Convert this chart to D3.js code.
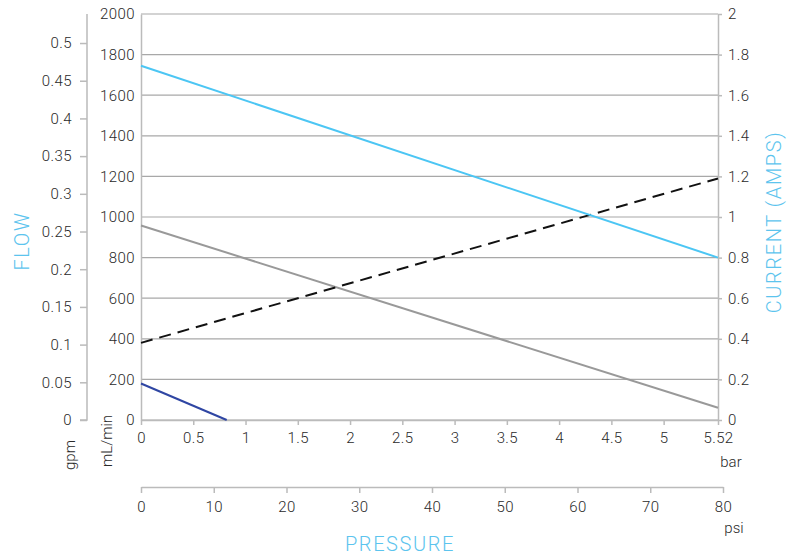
<!DOCTYPE html>
<html lang="en">
<head>
	<meta charset="UTF-8"/>
	<title>Flow and current vs pressure</title>
	<script src="https://d3js.org/d3.v7.min.js"></script>
	<style>
		body { margin:0; background:#fff; }
		text { font-family:"Roboto", "Liberation Sans", sans-serif; font-weight:300; fill:#2a2a2a; }
		.title { fill:#5cc4ee; font-size:20px; letter-spacing:1.6px; }
	</style>
</head>
<body>
	<script>
		// tick labels
		var mlTicks = [0,200,400,600,800,1000,1200,1400,1600,1800,2000];
		var gpmTicks = [0,0.05,0.1,0.15,0.2,0.25,0.3,0.35,0.4,0.45,0.5];
		var ampTicks = [0,0.2,0.4,0.6,0.8,1,1.2,1.4,1.6,1.8,2];
		var barTicks = [0,0.5,1,1.5,2,2.5,3,3.5,4,4.5,5,5.52];
		var psiTicks = [0,10,20,30,40,50,60,70,80];

		// series: [bar, value]
		var flowLight = [[0,1745],[5.52,800]];    // mL/min
		var flowGray = [[0,958],[5.52,60]];       // mL/min
		var flowDark = [[0,180],[0.82,0]];        // mL/min
		var current = [[0,0.38],[5.52,1.19]];     // amps

		var w = 799, h = 557;
		var padL = 141, padR = 718, padT = 14, padB = 420;

		var x = d3.scaleLinear().domain([0,5.52]).range([padL,padR]);
		var xPsi = d3.scaleLinear().domain([0,80]).range([padL,723]);
		var yMl = d3.scaleLinear().domain([0,2000]).range([padB,padT]);
		var yGpm = d3.scaleLinear().domain([0,0.5385]).range([padB,padT]);
		var yAmp = d3.scaleLinear().domain([0,2]).range([padB,padT]);

		var svg = d3.select("body").append("svg").attr("width",w).attr("height",h);

		// gridlines
		svg.append("g").selectAll("line").data(mlTicks).enter().append("line")
		.attr("x1",padL).attr("x2",padR)
		.attr("y1",function(d){ return yMl(d); })
		.attr("y2",function(d){ return yMl(d); })
		.attr("stroke","#a8a8a8").attr("stroke-width",1.2);

		function styleAxis(g){
			g.selectAll("path").attr("stroke","#bbb").attr("stroke-width",1.5);
			g.selectAll("line").attr("stroke","#bbb").attr("stroke-width",1.5);
			g.selectAll("text").attr("font-size","15px").attr("fill","#2a2a2a")
			.style("font-family","Roboto, 'Liberation Sans', sans-serif").style("font-weight","300")
			.style("letter-spacing","0.4px");
		}
		var fmt = function(d){ return String(d); };

		// left mL/min axis
		var gMl = svg.append("g").attr("transform","translate("+padL+",0)")
		.call(d3.axisLeft(yMl).tickValues(mlTicks).tickFormat(fmt).tickSize(0).tickPadding(6));
		styleAxis(gMl);

		// gpm axis
		var gGpm = svg.append("g").attr("transform","translate(87,0)")
		.call(d3.axisLeft(yGpm).tickValues(gpmTicks).tickFormat(fmt).tickSize(7).tickSizeOuter(0).tickPadding(8));
		styleAxis(gGpm);
		gGpm.select("path").attr("d","M-7,"+padB+"H0V"+padT);

		// right amps axis
		var gAmp = svg.append("g").attr("transform","translate("+padR+",0)")
		.call(d3.axisRight(yAmp).tickValues(ampTicks).tickFormat(fmt).tickSize(4).tickSizeOuter(0).tickPadding(6));
		styleAxis(gAmp);

		// bottom bar axis
		var gBar = svg.append("g").attr("transform","translate(0,"+padB+")")
		.call(d3.axisBottom(x).tickValues(barTicks).tickFormat(fmt).tickSize(5).tickSizeOuter(0).tickPadding(7));
		styleAxis(gBar);

		// psi axis
		var gPsi = svg.append("g").attr("transform","translate(0,487)")
		.call(d3.axisBottom(xPsi).tickValues(psiTicks).tickFormat(fmt).tickSize(6).tickSizeOuter(0).tickPadding(8));
		styleAxis(gPsi);

		// lines
		var line = function(ys){
			return d3.line().x(function(d){ return x(d[0]); }).y(function(d){ return ys(d[1]); });
		};
		svg.append("path").datum(flowGray).attr("d",line(yMl))
		.attr("fill","none").attr("stroke","#999").attr("stroke-width",2);
		svg.append("path").datum(current).attr("d",line(yAmp))
		.attr("fill","none").attr("stroke","#111").attr("stroke-width",2).attr("stroke-dasharray","12,7");
		svg.append("path").datum(flowLight).attr("d",line(yMl))
		.attr("fill","none").attr("stroke","#4cc6f4").attr("stroke-width",2);
		svg.append("path").datum(flowDark).attr("d",line(yMl))
		.attr("fill","none").attr("stroke","#2f46a3").attr("stroke-width",2);

		// unit labels
		svg.append("text").text("bar").attr("x",731).attr("y",467).attr("text-anchor","middle").attr("font-size","15px");
		svg.append("text").text("psi").attr("x",734).attr("y",533).attr("text-anchor","middle").attr("font-size","15px");
		svg.append("text").text("gpm").attr("transform","translate(75,455) rotate(-90)").attr("text-anchor","middle").attr("font-size","15px");
		svg.append("text").text("mL/min").attr("transform","translate(112,441) rotate(-90)").attr("text-anchor","middle").attr("font-size","15px");

		// titles
		svg.append("text").attr("class","title").text("FLOW")
		.attr("transform","translate(29,241) rotate(-90)").attr("text-anchor","middle");
		svg.append("text").attr("class","title").text("CURRENT (AMPS)")
		.attr("transform","translate(781,222) rotate(-90)").attr("text-anchor","middle");
		svg.append("text").attr("class","title").text("PRESSURE")
		.attr("x",400).attr("y",551).attr("text-anchor","middle");
	</script>
</body>
</html>
